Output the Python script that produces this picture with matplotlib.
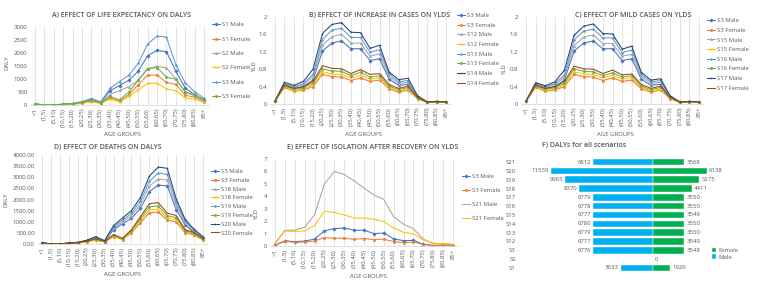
import numpy as np
import matplotlib
matplotlib.use('Agg')
import matplotlib.pyplot as plt

plt.rcParams['font.family'] = ['Open Sans', 'DejaVu Sans']

W, H = 759, 282
GREY = '#595959'
FS = 4.3

age_groups = ['<1', '(1,5)', '(5,10)', '(10,15)', '(15,20)', '(20,25)', '(25,30)', '(30,35)',
              '(35,40)', '(40,45)', '(45,50)', '(50,55)', '(55,60)', '(60,65)', '(65,70)',
              '(70,75)', '(75,80)', '(80,85)', '85+']

# DALYs by age group
s1_male_daly = [40, 0, 0, 30, 50, 100, 220, 100, 550, 750, 950, 1300, 1900, 2100, 2050, 1300, 650, 400, 200]
s1_female_daly = [30, 0, 0, 20, 40, 80, 150, 80, 280, 150, 400, 780, 1150, 1150, 870, 790, 380, 300, 130]
s2_male_daly = [35, 0, 0, 30, 50, 100, 190, 100, 400, 560, 700, 950, 1400, 1490, 1430, 1000, 500, 350, 180]
s2_female_daly = [20, 0, 0, 15, 30, 60, 120, 60, 220, 120, 330, 580, 830, 830, 620, 550, 270, 230, 100]
s3_male_daly = [50, 0, 0, 40, 60, 130, 250, 120, 640, 900, 1150, 1600, 2350, 2650, 2610, 1550, 850, 510, 260]
s3_female_daly = [40, 0, 0, 30, 45, 100, 180, 90, 330, 200, 500, 950, 1400, 1440, 1070, 990, 500, 400, 180]
s18_male_daly = [55, 0, 0, 45, 65, 145, 280, 130, 700, 990, 1270, 1760, 2600, 2920, 2880, 1720, 940, 560, 285]
s18_female_daly = [45, 0, 0, 33, 50, 110, 195, 100, 360, 220, 545, 1040, 1530, 1570, 1170, 1080, 545, 440, 195]
s19_male_daly = [60, 0, 0, 48, 70, 155, 305, 140, 760, 1070, 1380, 1920, 2820, 3190, 3130, 1870, 1020, 610, 310]
s19_female_daly = [48, 0, 0, 36, 54, 120, 215, 108, 395, 240, 595, 1130, 1670, 1710, 1275, 1180, 595, 475, 215]
s20_male_daly = [65, 0, 0, 52, 75, 170, 330, 150, 830, 1170, 1500, 2080, 3050, 3460, 3400, 2030, 1110, 660, 335]
s20_female_daly = [52, 0, 0, 39, 58, 130, 232, 116, 425, 260, 645, 1225, 1810, 1860, 1385, 1280, 645, 515, 232]

# YLDs by age group
s3_male_yld = [0.06, 0.42, 0.35, 0.40, 0.55, 1.22, 1.40, 1.45, 1.27, 1.27, 1.00, 1.04, 0.57, 0.43, 0.45, 0.14, 0.04, 0.05, 0.04]
s3_female_yld = [0.06, 0.38, 0.29, 0.32, 0.40, 0.68, 0.63, 0.62, 0.54, 0.60, 0.52, 0.55, 0.35, 0.27, 0.32, 0.12, 0.04, 0.05, 0.05]
s12_male_yld = [0.06, 0.45, 0.38, 0.44, 0.62, 1.35, 1.55, 1.60, 1.40, 1.40, 1.10, 1.15, 0.63, 0.47, 0.50, 0.16, 0.05, 0.06, 0.05]
s12_female_yld = [0.06, 0.40, 0.31, 0.34, 0.44, 0.74, 0.69, 0.68, 0.60, 0.66, 0.57, 0.60, 0.38, 0.30, 0.35, 0.13, 0.04, 0.05, 0.05]
s13_male_yld = [0.06, 0.47, 0.40, 0.47, 0.68, 1.48, 1.70, 1.74, 1.53, 1.53, 1.19, 1.25, 0.69, 0.51, 0.54, 0.17, 0.05, 0.06, 0.05]
s13_female_yld = [0.06, 0.42, 0.34, 0.37, 0.48, 0.81, 0.76, 0.75, 0.65, 0.73, 0.62, 0.65, 0.41, 0.33, 0.38, 0.14, 0.04, 0.05, 0.05]
s14_male_yld = [0.07, 0.50, 0.43, 0.52, 0.80, 1.62, 1.83, 1.87, 1.65, 1.64, 1.28, 1.35, 0.74, 0.56, 0.59, 0.19, 0.05, 0.06, 0.05]
s14_female_yld = [0.07, 0.44, 0.36, 0.40, 0.52, 0.88, 0.82, 0.81, 0.70, 0.79, 0.68, 0.70, 0.45, 0.36, 0.41, 0.15, 0.05, 0.05, 0.05]
s15_male_yld = [0.06, 0.45, 0.38, 0.44, 0.62, 1.34, 1.54, 1.59, 1.39, 1.39, 1.10, 1.14, 0.63, 0.47, 0.50, 0.16, 0.05, 0.06, 0.05]
s15_female_yld = [0.06, 0.40, 0.31, 0.34, 0.44, 0.74, 0.69, 0.68, 0.60, 0.66, 0.57, 0.60, 0.38, 0.30, 0.35, 0.13, 0.04, 0.05, 0.05]
s16_male_yld = [0.06, 0.47, 0.40, 0.47, 0.67, 1.47, 1.68, 1.72, 1.52, 1.52, 1.18, 1.24, 0.68, 0.51, 0.54, 0.17, 0.05, 0.06, 0.05]
s16_female_yld = [0.06, 0.42, 0.34, 0.37, 0.48, 0.81, 0.75, 0.74, 0.65, 0.72, 0.62, 0.65, 0.41, 0.33, 0.38, 0.14, 0.04, 0.05, 0.05]
s17_male_yld = [0.07, 0.49, 0.42, 0.51, 0.78, 1.58, 1.79, 1.84, 1.62, 1.61, 1.26, 1.33, 0.73, 0.55, 0.58, 0.19, 0.05, 0.06, 0.05]
s17_female_yld = [0.07, 0.44, 0.36, 0.40, 0.52, 0.87, 0.81, 0.80, 0.70, 0.78, 0.67, 0.69, 0.45, 0.36, 0.41, 0.15, 0.05, 0.05, 0.05]
s21_male_yld = [0.20, 1.25, 1.28, 1.50, 2.50, 5.00, 6.00, 5.75, 5.25, 4.65, 4.10, 3.75, 2.35, 1.75, 1.38, 0.55, 0.18, 0.15, 0.12]
s21_female_yld = [0.20, 1.20, 1.18, 1.20, 1.65, 2.80, 2.70, 2.50, 2.25, 2.25, 2.15, 1.95, 1.45, 1.10, 0.98, 0.50, 0.22, 0.20, 0.15]

# totals for all scenarios
scenarios = ['S1', 'S2', 'S3', 'S12', 'S13', 'S14', 'S15', 'S16', 'S17', 'S18', 'S19', 'S20', 'S21']
male_total = [3633, 0, 6776, 6777, 6779, 6780, 6777, 6778, 6779, 8370, 9965, 11559, 6812]
female_total = [1926, 0, 3548, 3549, 3550, 3550, 3549, 3550, 3550, 4411, 5275, 6138, 3568]

colors = ['#4472C4', '#ED7D31', '#A5A5A5', '#FFC000', '#5B9BD5', '#70AD47', '#264478', '#9E480E']
markers = ['D', 's', '^', 'x', '*', 'o', '+', '_']

fig = plt.figure(figsize=(W / 100, H / 100), dpi=100)


def px_axes(left, top, right, bottom):
    return fig.add_axes([left / W, 1 - bottom / H, (right - left) / W, (bottom - top) / H])


def line_panel(ax, series, names, ymax, ystep, yfmt, marked=None):
    x = np.arange(len(age_groups))
    handles = []
    for i, (vals, name) in enumerate(zip(series, names)):
        use_marker = marked is None or marked[i]
        h, = ax.plot(x, vals, color=colors[i], lw=0.75,
                     marker=markers[i] if use_marker else None, markersize=1.7,
                     markeredgewidth=0.4)
        handles.append(h)
    ax.set_xlim(-0.5, len(age_groups) - 0.5)
    ax.set_ylim(0, ymax)
    ax.set_xticks(x)
    ax.set_xticklabels(age_groups, rotation=90, fontsize=FS, color=GREY)
    yt = np.arange(0, ymax + ystep / 2, ystep)
    ax.set_yticks(yt)
    ax.set_yticklabels([yfmt(v) for v in yt], fontsize=FS, color=GREY)
    ax.tick_params(length=0, pad=2)
    ax.grid(axis='x', color='#D9D9D9', lw=0.5)
    ax.set_axisbelow(True)
    for s in ['top', 'right', 'left']:
        ax.spines[s].set_visible(False)
    ax.spines['bottom'].set_color('#D9D9D9')
    ax.spines['bottom'].set_linewidth(0.6)
    return handles


def add_legend(ax, handles, names, x, top, spacing):
    ax.legend(handles, names, loc='upper left', bbox_to_anchor=(x / W, 1 - top / H),
              bbox_transform=fig.transFigure, frameon=False, fontsize=FS,
              handlelength=1.3, handletextpad=0.3, labelspacing=spacing,
              borderpad=0, borderaxespad=0, labelcolor=GREY)


def title(x, y, txt):
    fig.text(x / W, 1 - y / H, txt, ha='center', va='center', fontsize=5.0,
             color=GREY, fontweight='semibold')


def label(x, y, txt, rot=0):
    fig.text(x / W, 1 - y / H, txt, ha='center', va='center', fontsize=FS,
             color=GREY, rotation=rot)


fmt_int = lambda v: '%d' % v
fmt_dec1 = lambda v: '0' if v == 0 else ('%g' % round(v, 1))
fmt_dec2 = lambda v: '%.2f' % v

# A
axA = px_axes(30.3, 27, 208.7, 105)
namesA = ['S1 Male', 'S1 Female', 'S2 Male', 'S2 Female', 'S3 Male', 'S3 Female']
hA = line_panel(axA, [s1_male_daly, s1_female_daly, s2_male_daly, s2_female_daly,
                      s3_male_daly, s3_female_daly], namesA, 3000, 500, fmt_int)
add_legend(axA, hA, namesA, 212, 22, 1.55)
title(122, 16, 'A) EFFECT OF LIFE EXPECTANCY ON DALYS')
label(122, 134, 'AGE GROUPS')
label(7, 63, 'DALY', 90)

# B
axB = px_axes(270.2, 17, 450.8, 104)
namesB = ['S3 Male', 'S3 Female', 'S12 Male', 'S12 Female', 'S13 Male', 'S13 Female',
          'S14 Male', 'S14 Female']
hB = line_panel(axB, [s3_male_yld, s3_female_yld, s12_male_yld, s12_female_yld,
                      s13_male_yld, s13_female_yld, s14_male_yld, s14_female_yld],
                namesB, 2, 0.4, fmt_dec1)
add_legend(axB, hB, namesB, 457, 13, 0.75)
title(380, 15, 'B) EFFECT OF INCREASE IN CASES ON YLDS')
label(363, 134, 'AGE GROUPS')
label(255, 67, 'YLD', 90)

# C
axC = px_axes(521.2, 17, 703.8, 104)
namesC = ['S3 Male', 'S3 Female', 'S15 Male', 'S15 Female', 'S16 Male', 'S16 Female',
          'S17 Male', 'S17 Female']
hC = line_panel(axC, [s3_male_yld, s3_female_yld, s15_male_yld, s15_female_yld,
                      s16_male_yld, s16_female_yld, s17_male_yld, s17_female_yld],
                namesC, 2, 0.4, fmt_dec1)
add_legend(axC, hC, namesC, 707, 18, 0.75)
title(633, 15, 'C) EFFECT OF MILD CASES ON YLDS')
label(615, 134, 'AGE GROUPS')
label(505, 70, 'YLD', 90)

# D
axD = px_axes(37.5, 155, 207.5, 244)
namesD = ['S3 Male', 'S3 Female', 'S18 Male', 'S18 Female', 'S19 Male', 'S19 Female',
          'S20 Male', 'S20 Female']
hD = line_panel(axD, [s3_male_daly, s3_female_daly, s18_male_daly, s18_female_daly,
                      s19_male_daly, s19_female_daly, s20_male_daly, s20_female_daly],
                namesD, 4000, 500, fmt_dec2)
add_legend(axD, hD, namesD, 211, 169, 0.6)
title(108, 147, 'D) EFFECT OF DEATHS ON DALYS')
label(122, 274, 'AGE GROUPS')
label(6, 200, 'DALY', 90)

# E
axE = px_axes(270, 159, 458, 246)
namesE = ['S3 Male', 'S3 Female', 'S21 Male', 'S21 Female']
hE = line_panel(axE, [s3_male_yld, s3_female_yld, s21_male_yld, s21_female_yld],
                namesE, 7, 1, fmt_int, marked=[True, True, False, False])
add_legend(axE, hE, namesE, 462, 174, 1.45)
title(373, 148, 'E) EFFECT OF ISOLATION AFTER RECOVERY ON YLDS')
label(368, 276, 'AGE GROUPS')
label(257, 215, 'YLD', 90)

# F
axF = px_axes(520, 157.6, 720, 272.4)
y = np.arange(len(scenarios))
male_neg = [-v for v in male_total]
bm = axF.barh(y, male_neg, height=0.72, color='#00B0F0', edgecolor='white', linewidth=0.3, label='Male')
bf = axF.barh(y, female_total, height=0.72, color='#00B050', edgecolor='white', linewidth=0.3, label='Female')
axF.bar_label(bm, labels=[str(v) if v else '' for v in male_total], padding=1.5, fontsize=FS, color=GREY)
axF.bar_label(bf, labels=[str(v) for v in female_total], padding=1.5, fontsize=FS, color=GREY)
axF.set_xlim((520 - 653) / 0.0088, (720 - 653) / 0.0088)
axF.set_ylim(-0.5, len(scenarios) - 0.5)
axF.set_yticks(y)
axF.set_yticklabels(scenarios, fontsize=FS, color=GREY)
axF.set_xticks([])
axF.tick_params(length=0, pad=3)
for s in axF.spines.values():
    s.set_visible(False)
axF.legend([bf, bm], ['Female', 'Male'], loc='upper left', bbox_to_anchor=(712 / W, 1 - 248 / H),
           bbox_transform=fig.transFigure, frameon=False, fontsize=FS, handlelength=0.7,
           handleheight=0.7, handletextpad=0.4, labelspacing=0.2, borderpad=0, borderaxespad=0,
           labelcolor=GREY)
title(584, 145, 'F) DALYs for all scenarios')

fig.savefig('out.png', dpi=100)
